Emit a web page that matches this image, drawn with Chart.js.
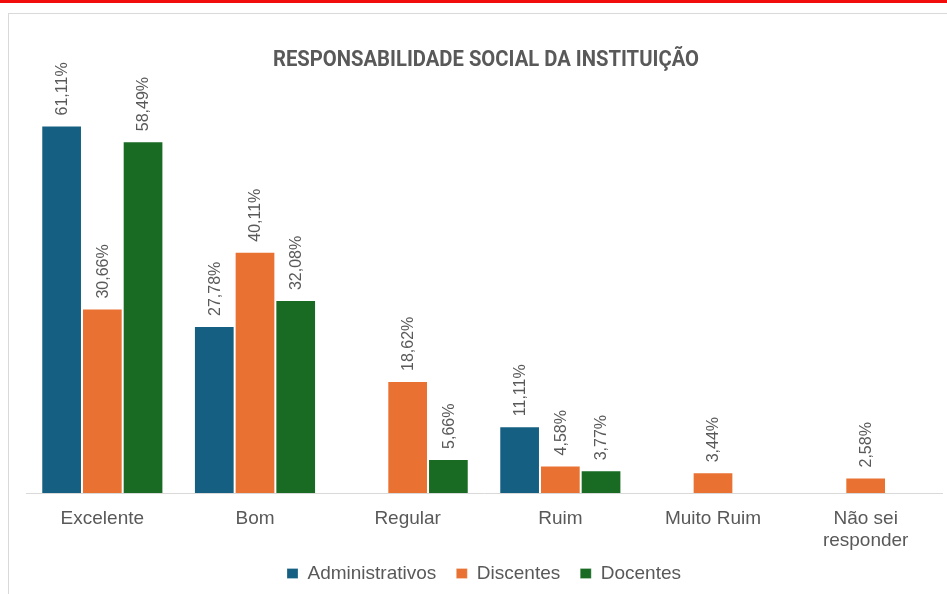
<!DOCTYPE html>
<html>
<head>
<meta charset="utf-8">
<script src="https://cdn.jsdelivr.net/npm/chart.js@4.4.1/dist/chart.umd.min.js"></script>
<style>
  html, body { margin: 0; padding: 0; background: #fff; width: 947px; height: 594px; overflow: hidden; }
  #redbar { position: absolute; left: 0; top: 0; width: 947px; height: 3px; background: #f20d0d; }
  #box { position: absolute; left: 8px; top: 13px; width: 960px; height: 600px; border-left: 1px solid #d9d9d9; border-top: 1px solid #d9d9d9; }
  #wrap { position: absolute; left: 9px; top: 14px; width: 954px; height: 579px; }
</style>
</head>
<body>
<div id="redbar"></div>
<div id="box"></div>
<div id="wrap"><canvas id="c"></canvas></div>
<script>
const chartTitle = 'RESPONSABILIDADE SOCIAL DA INSTITUIÇÃO';
const categories = ['Excelente', 'Bom', 'Regular', 'Ruim', 'Muito Ruim', ['Não sei', 'responder']];
const seriesNames = ['Administrativos', 'Discentes', 'Docentes'];
const administrativos = [61.11, 27.78, null, 11.11, null, null];
const discentes = [30.66, 40.11, 18.62, 4.58, 3.44, 2.58];
const docentes = [58.49, 32.08, 5.66, 3.77, null, null];
const seriesColors = ['#156082', '#E97132', '#196B24'];

const textGray = '#595959';

const barLabelPlugin = {
  id: 'barLabels',
  afterDatasetsDraw(chart) {
    const ctx = chart.ctx;
    ctx.save();
    ctx.font = '16px "Liberation Sans", Arial, sans-serif';
    ctx.fillStyle = textGray;
    chart.data.datasets.forEach((ds, di) => {
      const meta = chart.getDatasetMeta(di);
      meta.data.forEach((el, i) => {
        const v = ds.data[i];
        if (v === null || v === undefined) return;
        const txt = v.toFixed(2).replace('.', ',') + '%';
        ctx.save();
        ctx.translate(el.x + 1, el.y - 10);
        ctx.rotate(-Math.PI / 2);
        ctx.textAlign = 'left';
        ctx.textBaseline = 'middle';
        ctx.fillText(txt, 0, 0);
        ctx.restore();
      });
    });
    ctx.restore();
  }
};

const titlePlugin = {
  id: 'condensedTitle',
  afterDraw(chart) {
    const ctx = chart.ctx;
    ctx.save();
    ctx.font = 'bold 22px Roboto, "Liberation Sans", sans-serif';
    ctx.fillStyle = textGray;
    ctx.textAlign = 'center';
    ctx.textBaseline = 'middle';
    const w = ctx.measureText(chartTitle).width;
    const target = 426;
    ctx.translate(chart.width / 2, 46);
    ctx.scale(target / w, 1);
    ctx.fillText(chartTitle, 0, 0);
    ctx.restore();
  }
};

// let the two-line category label extend below the (compact) axis box
const labelRoomPlugin = {
  id: 'labelRoom',
  afterLayout(chart) {
    chart.scales.x.bottom += 30;
  }
};

const datasetValues = [administrativos, discentes, docentes];

new Chart(document.getElementById('c'), {
  type: 'bar',
  data: {
    labels: categories,
    datasets: seriesNames.map((name, i) => ({
      label: name,
      data: datasetValues[i],
      backgroundColor: seriesColors[i],
      borderColor: 'rgba(255,255,255,0.25)',
      borderWidth: 1,
      categoryPercentage: 0.8,
      barPercentage: 1.0
    }))
  },
  options: {
    responsive: true,
    maintainAspectRatio: false,
    animation: false,
    layout: { padding: { left: 17, right: 21, top: 58, bottom: 0 } },
    plugins: {
      title: { display: false },
      tooltip: { enabled: false },
      legend: {
        display: true,
        position: 'bottom',
        labels: {
          boxWidth: 11,
          boxHeight: 10,
          padding: 20,
          color: textGray,
          font: { size: 19, family: '"Liberation Sans", Arial, sans-serif' }
        }
      }
    },
    scales: {
      x: {
        grid: { display: false, drawTicks: false },
        border: { display: true, color: '#d9d9d9', width: 1 },
        ticks: {
          color: textGray,
          padding: 14,
          maxRotation: 0,
          autoSkip: false,
          font: { size: 19, family: '"Liberation Sans", Arial, sans-serif', lineHeight: 1.2 }
        },
        afterFit(scale) { scale.height = 51; }
      },
      y: {
        display: false,
        min: 0,
        max: 70
      }
    }
  },
  plugins: [barLabelPlugin, titlePlugin, labelRoomPlugin]
});
</script>
</body>
</html>
